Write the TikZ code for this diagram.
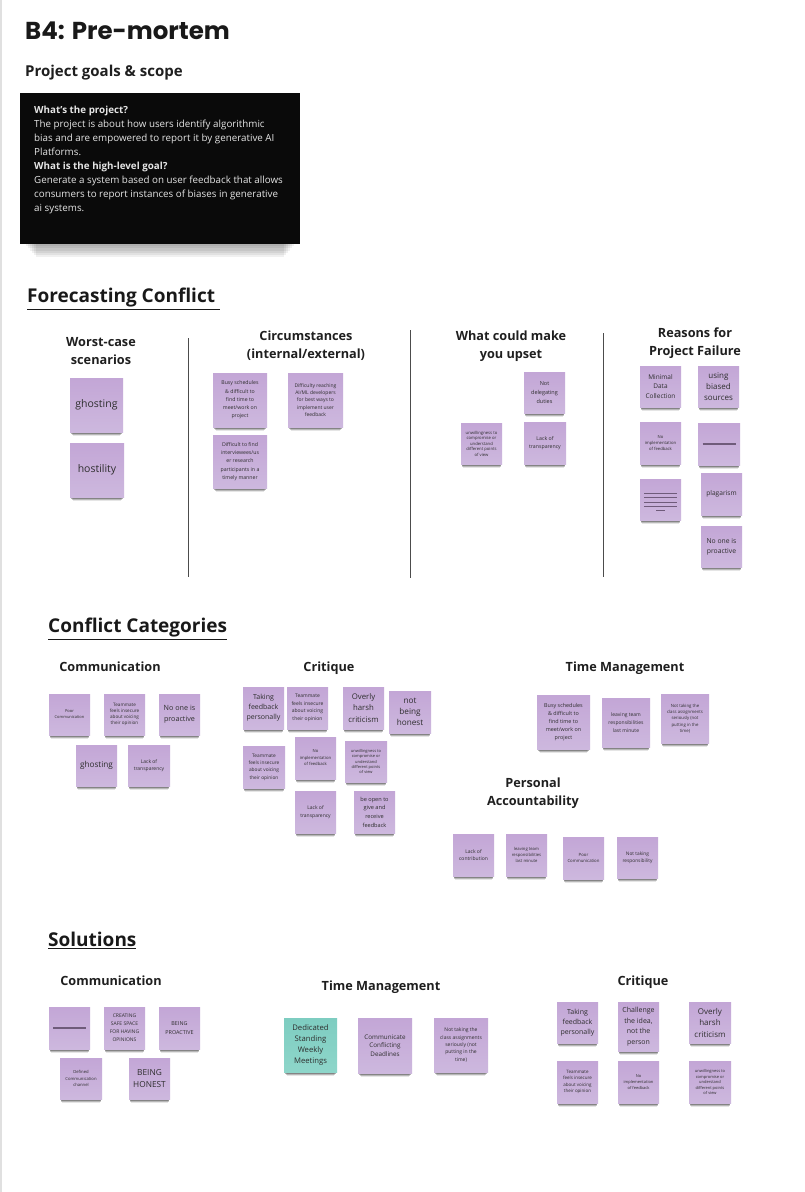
\documentclass[tikz,border=0pt]{standalone}
\usepackage{fontspec}
\setmainfont{Open Sans}
\newfontfamily\titlefont{Poppins}
\usetikzlibrary{shadows}
\definecolor{stkA}{HTML}{C3A6D6}
\definecolor{stkB}{HTML}{CDB8DE}
\definecolor{tealA}{HTML}{7ECDC1}
\definecolor{tealB}{HTML}{8ED6CA}
\definecolor{stktext}{HTML}{2E2E2E}
\definecolor{icon}{HTML}{6F5B7A}
\tikzset{
  sticky/.style={top color=stkA, bottom color=stkB, draw=none, inner sep=0pt, align=center, text=stktext,
    drop shadow={shadow xshift=0pt, shadow yshift=-7pt, shadow scale=0.9, opacity=0.1, fill=black},
    drop shadow={shadow xshift=0pt, shadow yshift=-5pt, shadow scale=0.94, opacity=0.2, fill=black},
    drop shadow={shadow xshift=0pt, shadow yshift=-3pt, shadow scale=0.97, opacity=0.35, fill=black!85}},
  tealsticky/.style={sticky, top color=tealA, bottom color=tealB},
  head/.style={font=\bfseries\fontsize{12.7}{18}\selectfont, align=center, text=black!88},
  sectionhead/.style={font=\bfseries\fontsize{19}{22}\selectfont, anchor=west, text=black!90, inner sep=0pt},
  sepline/.style={draw=black!70, line width=0.9pt},
  iconline/.style={draw=icon, line width=1.2pt},
}
\newcommand\stk[9]{\node[#1, minimum width={(#5-#3)*1pt}, minimum height={(#6-#4)*1pt}, font=\fontsize{#7}{#8}\selectfont] (#2) at ({(#3+#5)/2},{(#4+#6)/2}) {#9};}
\begin{document}
\begin{tikzpicture}[x=1pt, y=-1pt]
\useasboundingbox (0,0) rectangle (804,1192);
\fill[white] (0,0) rectangle (804,1192);
\fill[black!12] (0,0) rectangle (2,1192);

% title
\node[anchor=west, inner sep=0pt, font=\titlefont\bfseries\fontsize{24.5}{29}\selectfont, text=black!90] (title) at (25,31) {B4: Pre-mortem};
\node[anchor=west, inner sep=0pt, font=\bfseries\fontsize{15}{18}\selectfont, text=black!88] (goalshead) at (25,73) {Project goals \& scope};
\foreach \k in {1,...,6}
  \fill[black, opacity=0.06] ({24+\k*2},{236}) rectangle ({296-\k*2},{244+\k*2.2});
\node[fill=black!96, minimum width=280pt, minimum height=151pt, inner sep=0pt] (goal) at (160,168.5) {};
\node[anchor=north west, align=left, text=white!90!black, font=\fontsize{9.8}{14}\selectfont, inner sep=0pt] (goaltext) at (34,105.5)
 {\textbf{What's the project?}\\The project is about how users identify algorithmic\\bias and are empowered to report it by generative AI\\Platforms.\\\textbf{What is the high-level goal?}\\Generate a system based on user feedback that allows\\consumers to report instances of biases in generative\\ai systems.};

% Forecasting conflict
\node[sectionhead] (fc) at (27,299) {\underline{Forecasting Conflict~}};
\node[head] (h1) at (101,351) {Worst-case\\scenarios};
\node[head] (h2) at (306,346) {Circumstances\\(internal/external)};
\node[head] (h3) at (511,346) {What could make\\you upset};
\node[head] (h4) at (695,343) {Reasons for\\Project Failure};
\draw[sepline] (188,338) -- (188,577);
\draw[sepline] (410,330) -- (410,578);
\draw[sepline] (603,333) -- (603,577);

\stk{sticky}{wc1}{70}{378}{123}{432}{10.5}{12}{ghosting}
\stk{sticky}{wc2}{70}{443}{124}{497}{10.5}{12}{hostility}

\stk{sticky}{ci1}{213}{373}{267}{427}{5.2}{8.3}{Busy schedules\\\& difficult to\\find time to\\meet/work on\\project}
\stk{sticky}{ci2}{288}{373}{343}{427}{5}{7.3}{Difficulty reaching\\AI/ML developers\\for best ways to\\implement user\\feedback}
\stk{sticky}{ci3}{213}{435}{267}{488}{5.2}{8.3}{Difficult to find\\interviewees/us\\er research\\participants in a\\timely manner}

\stk{sticky}{up1}{524}{372}{565}{413}{5.5}{8.7}{Not\\delegating\\duties}
\stk{sticky}{up2}{461}{423}{502}{464}{4.2}{5.5}{unwillingness to\\compromise or\\understand\\different points\\of view}
\stk{sticky}{up3}{524}{422}{566}{464}{5.2}{8}{Lack of\\transparency}

\stk{sticky}{rf1}{640}{366}{681}{407}{6.5}{9.7}{Minimal\\Data\\Collection}
\stk{sticky}{rf2}{698}{366}{739}{407}{8}{11}{using\\biased\\sources}
\stk{sticky}{rf3}{640}{422}{681}{464}{4.2}{6}{No\\implementation\\of feedback}
\stk{sticky}{rf4}{698}{423}{740}{465}{6}{8}{}
\draw[iconline] (rf4.center) ++(-16.5,0) -- ++(33,0);
\stk{sticky}{rf5}{640}{479}{681}{520}{6}{8}{}
\foreach \dy in {-6.5,-2,2.5,7} \draw[iconline, line width=1pt] (rf5.center) ++(-16.5,\dy) -- ++(33,0);
\draw[iconline, line width=1pt] (rf5.center) ++(-4.5,11) -- ++(9,0);
\stk{sticky}{rf6}{701}{473}{742}{515}{6.6}{9}{plagarism}
\stk{sticky}{rf7}{701}{526}{742}{567}{6.8}{10.3}{No one is\\proactive}

% Conflict categories
\node[sectionhead] (cc) at (48,629) {\underline{Conflict Categories}};
\node[head] (h5) at (110,667) {Communication};
\node[head] (h6) at (329,668) {Critique};
\node[head] (h7) at (625,668) {Time Management};
\node[head] (h8) at (533,793) {Personal\\Accountability};

\stk{sticky}{cc1}{49}{694}{90}{735}{4}{6}{Poor\\Communication}
\stk{sticky}{cc2}{104}{694}{145}{735}{4.6}{6}{Teammate\\feels insecure\\about voicing\\their opinion}
\stk{sticky}{cc3}{159}{694}{200}{735}{7.2}{10.7}{No one is\\proactive}
\stk{sticky}{cc4}{76}{745}{117}{786}{8.2}{10}{ghosting}
\stk{sticky}{cc5}{128}{745}{170}{786}{5}{7.3}{Lack of\\transparency}

\stk{sticky}{cq1}{243}{687}{284}{729}{7}{10}{Taking\\feedback\\personally}
\stk{sticky}{cq2}{287}{687}{328}{729}{5}{7.5}{Teammate\\feels insecure\\about voicing\\their opinion}
\stk{sticky}{cq3}{343}{687}{384}{729}{7.8}{11.3}{Overly\\harsh\\criticism}
\stk{sticky}{cq4}{389}{691}{431}{733}{8.2}{11.3}{not\\being\\honest}
\stk{sticky}{cq5}{243}{746}{285}{788}{4.8}{7.3}{Teammate\\feels insecure\\about voicing\\their opinion}
\stk{sticky}{cq6}{295}{737}{336}{779}{4.2}{6.5}{No\\implementation\\of feedback}
\stk{sticky}{cq7}{345}{741}{387}{782}{4}{5.3}{unwillingness to\\compromise or\\understand\\different points\\of view}
\stk{sticky}{cq8}{295}{791}{336}{833}{5}{7.7}{Lack of\\transparency}
\stk{sticky}{cq9}{354}{791}{395}{833}{5.6}{8.7}{be open to\\give and\\receive\\feedback}

\stk{sticky}{tm1}{537}{695}{590}{749}{5.4}{8}{Busy schedules\\\& difficult to\\find time to\\meet/work on\\project}
\stk{sticky}{tm2}{602}{698}{650}{747}{5}{8}{leaving team\\responsibilities\\last minute}
\stk{sticky}{tm3}{661}{694}{709}{743}{4.3}{6.3}{Not taking the\\class assignments\\seriously (not\\putting in the\\time)}

\stk{sticky}{pa1}{453}{834}{494}{876}{5}{7.3}{Lack of\\contribution}
\stk{sticky}{pa2}{506}{834}{547}{876}{4.2}{6.3}{leaving team\\responsibilities\\last minute}
\stk{sticky}{pa3}{563}{837}{604}{879}{4.3}{6.8}{Poor\\Communication}
\stk{sticky}{pa4}{617}{837}{658}{878}{4.8}{6.7}{Not taking\\responsibility}

% Solutions
\node[sectionhead] (sol) at (48,940) {\underline{Solutions}};
\node[head] (h9) at (111,981) {Communication};
\node[head] (h10) at (381,987) {Time Management};
\node[head] (h11) at (643,982) {Critique};

\stk{sticky}{sc1}{49}{1007}{90}{1049}{6}{8}{}
\draw[iconline] (sc1.center) ++(-16.5,0) -- ++(33,0);
\stk{sticky}{sc2}{104}{1007}{145}{1049}{5}{8}{CREATING\\SAFE SPACE\\FOR HAVING\\OPINIONS}
\stk{sticky}{sc3}{159}{1007}{200}{1049}{5.4}{8.3}{BEING\\PROACTIVE}
\stk{sticky}{sc4}{60}{1058}{102}{1099}{4.2}{6.5}{Defined\\Communication\\channel}
\stk{sticky}{sc5}{129}{1058}{170}{1099}{8.3}{12}{BEING\\HONEST}

\stk{tealsticky}{ts1}{284}{1018}{337}{1072}{7.7}{11.2}{Dedicated\\Standing\\Weekly\\Meetings}
\stk{sticky}{ts2}{358}{1018}{412}{1073}{6.3}{8.3}{Communicate\\Conflicting\\Deadlines}
\stk{sticky}{ts3}{434}{1018}{488}{1072}{5}{7.3}{Not taking the\\class assignments\\seriously (not\\putting in the\\time)}

\stk{sticky}{sq1}{557}{1002}{598}{1043}{7}{10}{Taking\\feedback\\personally}
\stk{sticky}{sq2}{618}{1002}{659}{1051}{7}{10.5}{Challenge\\the idea,\\not the\\person}
\stk{sticky}{sq3}{689}{1002}{731}{1043}{8}{11.5}{Overly\\harsh\\criticism}
\stk{sticky}{sq4}{557}{1061}{598}{1103}{4.5}{6.3}{Teammate\\feels insecure\\about voicing\\their opinion}
\stk{sticky}{sq5}{618}{1061}{659}{1103}{4}{5.8}{No\\implementation\\of feedback}
\stk{sticky}{sq6}{689}{1061}{731}{1103}{4}{5.5}{unwillingness to\\compromise or\\understand\\different points\\of view}
\end{tikzpicture}
\end{document}
